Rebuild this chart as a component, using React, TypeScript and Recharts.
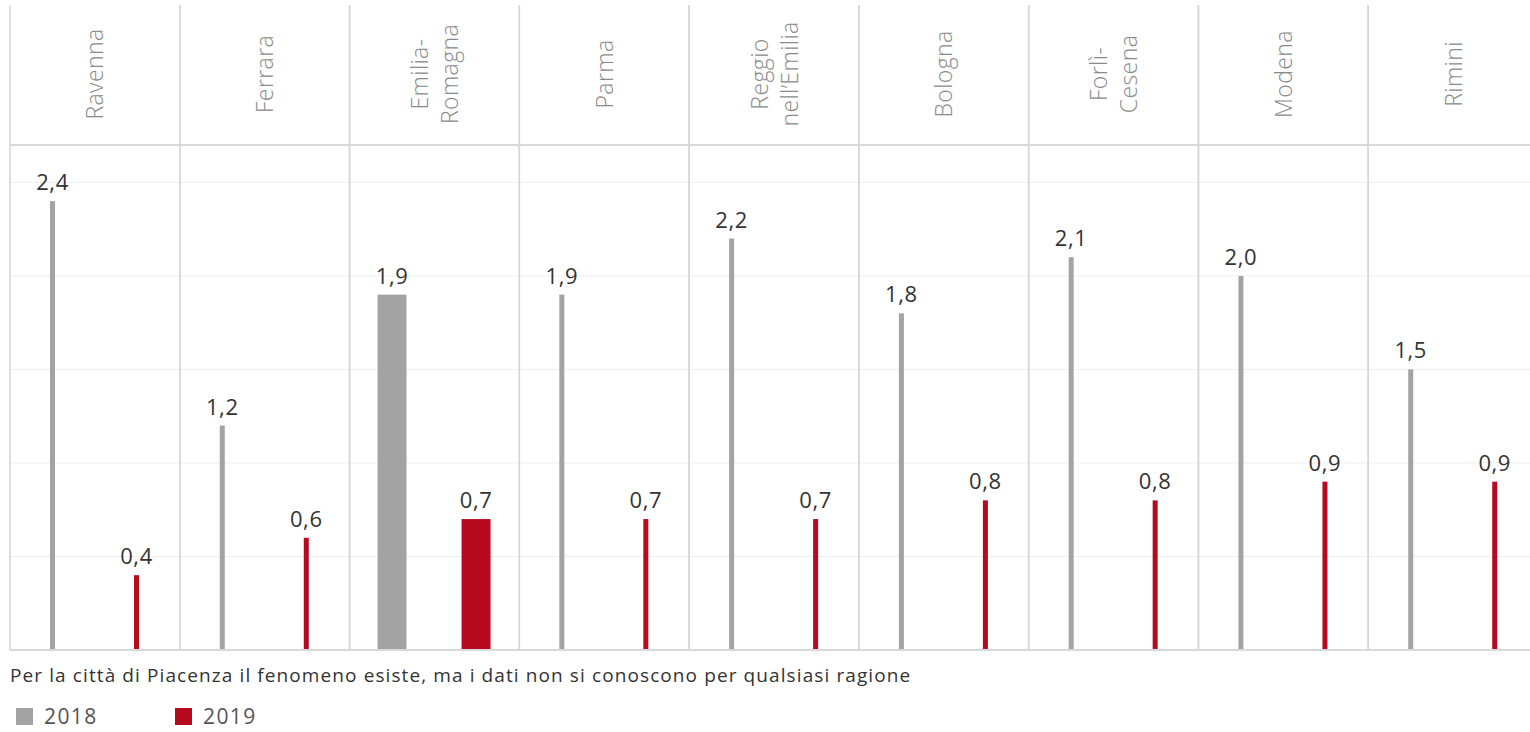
import { BarChart, Bar, XAxis, YAxis, CartesianGrid, LabelList, ReferenceLine } from 'recharts';

// Province / region names, in the order shown
const CATEGORIES = [
  'Ravenna',
  'Ferrara',
  'Emilia-Romagna',
  'Parma',
  'Reggio nell’Emilia',
  'Bologna',
  'Forlì-Cesena',
  'Modena',
  'Rimini',
];
const VALUES_2018 = [2.4, 1.2, 1.9, 1.9, 2.2, 1.8, 2.1, 2.0, 1.5];
const VALUES_2019 = [0.4, 0.6, 0.7, 0.7, 0.7, 0.8, 0.8, 0.9, 0.9];
const Y_TICKS = [0, 0.5, 1, 1.5, 2, 2.5];
const Y_MAX = 2.7;
const HIGHLIGHT = 'Emilia-Romagna';
const FOOTNOTE = 'Per la città di Piacenza il fenomeno esiste, ma i dati non si conoscono per qualsiasi ragione';

const GRAY = '#a3a3a3';
const RED = '#b70a1f';

// layout
const CHART_W = 1540;
const CHART_H = 652;
const MARGIN = { top: 5, right: 2, bottom: 2, left: 10 };
const HEADER_H = 140;
const PLOT_W = CHART_W - MARGIN.left - MARGIN.right;
const PLOT_H = CHART_H - MARGIN.top - MARGIN.bottom - HEADER_H;
const COL_HALF = PLOT_W / CATEGORIES.length / 2;
const THIN = 5;

const chartData = CATEGORIES.map((region, i) => ({
  region,
  v2018: VALUES_2018[i],
  v2019: VALUES_2019[i],
}));

const fmt = (v: any) => Number(v).toFixed(1).replace('.', ',');

// split "Emilia-Romagna" after the hyphen, "Reggio nell'Emilia" at the space
const splitLabel = (s: string) => s.split(/(?<=-)|\s+/);

function HeaderTick(props: any) {
  const { x, y, payload } = props;
  const lines = splitLabel(String(payload.value));
  const cy = y - 71;
  return (
    <g>
      <line x1={x - COL_HALF} x2={x - COL_HALF} y1={y - 140} y2={y + PLOT_H} stroke="#d6d6d6" strokeWidth={1.5} />
      <line x1={x + COL_HALF} x2={x + COL_HALF} y1={y - 140} y2={y + PLOT_H} stroke="#d6d6d6" strokeWidth={1.5} />
      <text
        transform={`translate(${x},${cy}) rotate(-90)`}
        textAnchor="middle"
        fill="#8a8a8a"
        fontSize={23}
        fontWeight={300}
        letterSpacing={0.4}
      >
        {lines.map((l, i) => (
          <tspan key={i} x={0} y={8.5 + (i - (lines.length - 1) / 2) * 30}>
            {l}
          </tspan>
        ))}
      </text>
    </g>
  );
}

// thin lollipop-like bars, full width only for the regional total
const makeShape = (color: string) => (props: any) => {
  const { x, y, width, height, payload } = props;
  const w = payload.region === HIGHLIGHT ? width : THIN;
  return <rect x={x + width / 2 - w / 2} y={y} width={w} height={height} fill={color} />;
};

export default function App() {
  return (
    <div
      style={{
        position: 'relative',
        width: 1530,
        height: 732,
        overflow: 'hidden',
        background: '#fff',
        fontFamily: '"Open Sans", "Noto Sans", sans-serif',
      }}
    >
      <style>{'body{margin:0}'}</style>
      <BarChart width={CHART_W} height={CHART_H} data={chartData} margin={MARGIN} barSize={29} barGap={55}>
        <CartesianGrid vertical={false} stroke="#efefef" strokeWidth={1} />
        <XAxis
          dataKey="region"
          orientation="top"
          height={HEADER_H}
          interval={0}
          tickLine={false}
          axisLine={false}
          tickSize={0}
          tickMargin={0}
          tick={<HeaderTick />}
        />
        <YAxis hide domain={[0, Y_MAX]} ticks={Y_TICKS} />
        <ReferenceLine y={Y_MAX} stroke="#d9d9d9" strokeWidth={2} ifOverflow="extendDomain" />
        <ReferenceLine y={0} stroke="#d9d9d9" strokeWidth={2} />
        <Bar dataKey="v2018" fill={GRAY} shape={makeShape(GRAY)} isAnimationActive={false}>
          <LabelList dataKey="v2018" position="top" offset={11} formatter={fmt} fill="#333" fontSize={22} letterSpacing={0.6} />
        </Bar>
        <Bar dataKey="v2019" fill={RED} shape={makeShape(RED)} isAnimationActive={false}>
          <LabelList dataKey="v2019" position="top" offset={11} formatter={fmt} fill="#333" fontSize={22} letterSpacing={0.6} />
        </Bar>
      </BarChart>

      <div
        style={{
          position: 'absolute',
          left: 10,
          top: 664,
          fontSize: 19,
          lineHeight: '22px',
          letterSpacing: 1.1,
          color: '#333',
          whiteSpace: 'nowrap',
        }}
      >
        {FOOTNOTE}
      </div>
      <div
        style={{
          position: 'absolute',
          left: 16,
          top: 706,
          display: 'flex',
          alignItems: 'center',
          fontSize: 21,
          lineHeight: '21px',
          letterSpacing: 1.4,
          color: '#555',
        }}
      >
        <span style={{ width: 17, height: 17, background: GRAY, display: 'inline-block' }} />
        <span style={{ marginLeft: 11, width: 131 }}>2018</span>
        <span style={{ width: 17, height: 17, background: RED, display: 'inline-block' }} />
        <span style={{ marginLeft: 11 }}>2019</span>
      </div>
    </div>
  );
}
